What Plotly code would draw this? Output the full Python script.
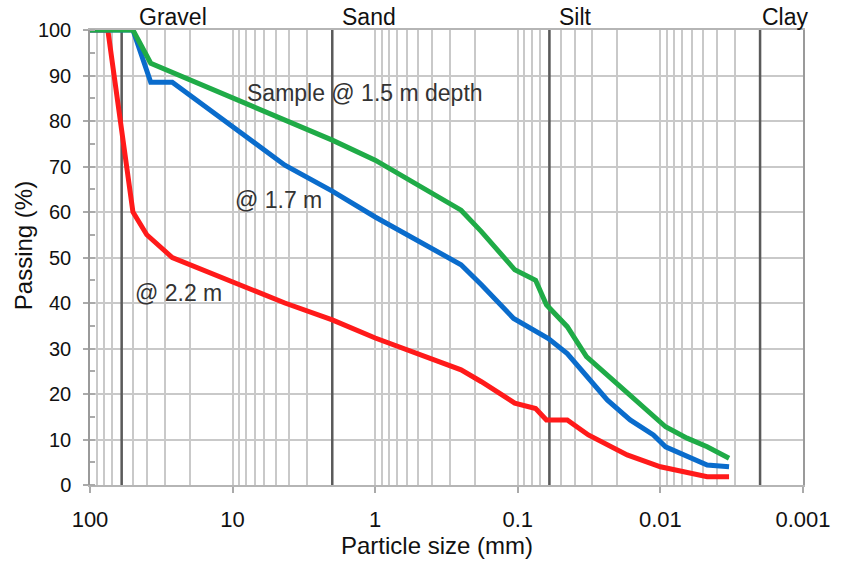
import plotly.graph_objects as go
import math

# ---- data (particle size in mm, passing in %) ----
size_15 = [100, 50, 37.5, 10, 2, 1, 0.25, 0.18, 0.105, 0.075, 0.063, 0.045, 0.033,
           0.018, 0.0092, 0.0065, 0.0047, 0.0033]
pass_15 = [100, 100, 92.7, 85, 75.8, 71.4, 60.4, 55.7, 47.3, 45, 39.6, 34.8, 28.2,
           20.9, 12.8, 10.3, 8.4, 5.9]

size_17 = [100, 50, 37.5, 26.5, 12.5, 4.3, 2, 1, 0.25, 0.18, 0.107, 0.061, 0.045,
           0.033, 0.0236, 0.0163, 0.0112, 0.0092, 0.0065, 0.0047, 0.0033]
pass_17 = [100, 100, 88.5, 88.5, 81, 70.3, 64.6, 58.9, 48.4, 44, 36.6, 32.2, 28.9,
           23.8, 18.7, 14.3, 11, 8.4, 6.2, 4.4, 4.0]

size_22 = [100, 75, 50, 40, 26.5, 4.3, 2, 1, 0.25, 0.18, 0.105, 0.075, 0.063, 0.045,
           0.032, 0.0171, 0.01, 0.0065, 0.0047, 0.0033]
pass_22 = [100, 100, 60, 55, 50, 40, 36.3, 32.3, 25.3, 22.7, 18, 16.8, 14.3, 14.3,
           11, 6.6, 4, 2.6, 1.8, 1.8]

boundaries = [60, 2, 0.06, 0.002]
zone_names = ["Gravel", "Sand", "Silt", "Clay"]
zone_label_x = [46.8, 1.76, 0.0528, 0.00199]

x_tickvals = [100, 10, 1, 0.1, 0.01, 0.001]
x_ticktext = ["100", "10", "1", "0.1", "0.01", "0.001"]

FONT = "Liberation Sans"
GRID = "#c9c9c9"

fig = go.Figure()

# boundary lines
for b in boundaries:
    fig.add_trace(go.Scatter(x=[b, b], y=[0, 100], mode="lines",
                             line=dict(color="#5a5a5a", width=2.5),
                             hoverinfo="skip", showlegend=False))

fig.add_trace(go.Scatter(x=size_22, y=pass_22, mode="lines", name="@ 2.2 m",
                         line=dict(color="#ff1a1a", width=5), cliponaxis=False,
                         showlegend=False))
fig.add_trace(go.Scatter(x=size_17, y=pass_17, mode="lines", name="@ 1.7 m",
                         line=dict(color="#0a6ccc", width=5), cliponaxis=False,
                         showlegend=False))
fig.add_trace(go.Scatter(x=size_15, y=pass_15, mode="lines", name="@ 1.5 m",
                         line=dict(color="#1fab47", width=5), cliponaxis=False,
                         showlegend=False))

minor_x = [k * 10 ** d for d in range(-3, 2) for k in range(2, 10)]

fig.update_xaxes(
    type="log", range=[2, -3],
    tickmode="array", tickvals=x_tickvals, ticktext=x_ticktext,
    ticks="outside", ticklen=6, tickcolor="#aaaaaa", tickwidth=1.5,
    ticklabelstandoff=8,
    tickfont=dict(family=FONT, size=22, color="#111"),
    showgrid=True, gridcolor=GRID, gridwidth=1.5,
    minor=dict(tickmode="array", tickvals=minor_x, showgrid=True,
               gridcolor=GRID, gridwidth=1.5, ticks=""),
    showline=True, mirror=True, linecolor="#b5b5b5", linewidth=1.5,
    zeroline=False,
)
fig.update_yaxes(
    range=[0, 100], dtick=10,
    ticks="outside", ticklen=5, tickcolor="#aaaaaa", tickwidth=1.5,
    ticklabelstandoff=8,
    tickfont=dict(family=FONT, size=20, color="#111"),
    showgrid=True, gridcolor=GRID, gridwidth=1.5,
    minor=dict(dtick=5, ticks="inside", ticklen=5, tickcolor="#aaaaaa",
               tickwidth=1.5, showgrid=False),
    showline=True, mirror=True, linecolor="#9a9a9a", linewidth=1.5,
    zeroline=False,
)

anns = []
for name, lx in zip(zone_names, zone_label_x):
    anns.append(dict(x=math.log10(lx), y=1.029, xref="x", yref="paper", text=name,
                     showarrow=False, xanchor="left", yanchor="middle",
                     font=dict(family=FONT, size=23, color="#111")))

anns += [
    dict(x=math.log10(8.18), y=86.2, xref="x", yref="y", text="Sample @ 1.5 m depth",
         showarrow=False, xanchor="left", yanchor="middle",
         font=dict(family=FONT, size=23, color="#333")),
    dict(x=math.log10(9.92), y=62.6, xref="x", yref="y", text="@ 1.7 m",
         showarrow=False, xanchor="left", yanchor="middle",
         font=dict(family=FONT, size=23, color="#333")),
    dict(x=math.log10(49.9), y=42.2, xref="x", yref="y", text="@ 2.2 m",
         showarrow=False, xanchor="left", yanchor="middle",
         font=dict(family=FONT, size=23, color="#333")),
    dict(x=0.486, y=-0.134, xref="paper", yref="paper", text="Particle size (mm)",
         showarrow=False, xanchor="center", yanchor="middle",
         font=dict(family=FONT, size=24, color="#111")),
    dict(x=-0.094, y=0.527, xref="paper", yref="paper", text="Passing (%)",
         showarrow=False, xanchor="center", yanchor="middle", textangle=-90,
         font=dict(family=FONT, size=24, color="#111")),
]

fig.update_layout(
    width=845, height=562,
    margin=dict(l=90, r=42, t=30, b=77),
    paper_bgcolor="white", plot_bgcolor="white",
    annotations=anns, showlegend=False,
    font=dict(family=FONT),
)

fig.write_html("out.html")
